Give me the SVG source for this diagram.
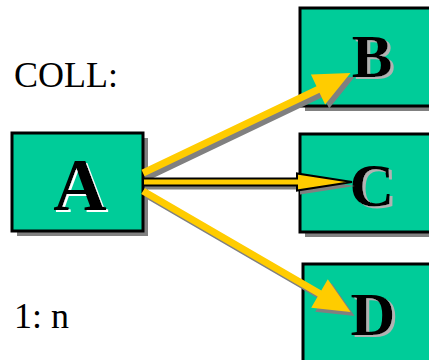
<svg xmlns="http://www.w3.org/2000/svg" width="429" height="360" viewBox="0 0 429 360">
<style>
.box{fill:#00CC99;stroke:#000;stroke-width:3}
.shadow{fill:#808080}
.lbl{font-family:"Liberation Serif","Times New Roman",serif;font-weight:bold;text-anchor:middle;fill:#000}
.txt{font-family:"Liberation Serif","Times New Roman",serif;font-size:36px;fill:#000}
.arr{fill:#FFCC00}
.ashadow{fill:#808080}
</style>
<defs>
<filter id="shW" x="-20%" y="-20%" width="140%" height="140%">
<feFlood flood-color="#fff"/>
<feComposite in2="SourceAlpha" operator="in"/>
<feOffset dx="2" dy="2" result="s"/>
<feMerge><feMergeNode in="s"/><feMergeNode in="SourceGraphic"/></feMerge>
</filter>
<filter id="shG" x="-20%" y="-20%" width="140%" height="140%">
<feFlood flood-color="#B2B2B2"/>
<feComposite in2="SourceAlpha" operator="in"/>
<feOffset dx="3" dy="2" result="s"/>
<feMerge><feMergeNode in="s"/><feMergeNode in="SourceGraphic"/></feMerge>
</filter>
<polygon id="pB" points="141.5,169.8 316.5,86.3 310.9,74.6 350.5,73 325.1,104.4 319.5,92.7 144.5,176.2"/>
<polygon id="pC" points="143,178.5 297,178.5 297,173.5 352,182 297,190.5 297,185.5 143,185.5"/>
<polygon id="pD" points="144.8,188 321.3,290.5 327.8,279.2 350.6,312 311.2,307.8 317.7,296.5 141.2,194"/>
</defs>
<rect width="429" height="360" fill="#fff"/>
<text class="txt" x="14" y="87">COLL:</text>
<text class="txt" x="14" y="328">1: n</text>
<g id="node-A">
<rect class="shadow" x="17" y="138" width="131" height="98"/>
<rect class="box" x="12" y="133" width="131" height="98"/>
<text class="lbl" x="80" y="210" font-size="74" filter="url(#shW)">A</text>
</g>
<g id="node-B">
<rect class="shadow" x="305" y="13" width="131" height="98"/>
<rect class="box" x="300" y="8" width="131" height="98"/>
<text class="lbl" x="372" y="77" font-size="61" filter="url(#shG)">B</text>
</g>
<g id="node-C">
<rect class="shadow" x="305" y="139" width="131" height="98"/>
<rect class="box" x="300" y="134" width="131" height="98"/>
<text class="lbl" x="372" y="206" font-size="62" filter="url(#shG)">C</text>
</g>
<g id="node-D">
<rect class="shadow" x="308" y="269" width="131" height="98"/>
<rect class="box" x="303" y="264" width="131" height="98"/>
<text class="lbl" x="373" y="335" font-size="62" filter="url(#shG)">D</text>
</g>
<g id="connectors">
<g id="A-B">
<use href="#pB" class="ashadow" transform="translate(4,4)"/>
<use href="#pB" class="arr"/>
</g>
<g id="A-C">
<use href="#pC" class="ashadow" transform="translate(3,4)"/>
<use href="#pC" class="arr" stroke="#000" stroke-width="2" stroke-linejoin="miter"/>
</g>
<g id="A-D">
<use href="#pD" class="ashadow" transform="translate(4,4)"/>
<use href="#pD" class="arr"/>
</g>
</g>
</svg>
